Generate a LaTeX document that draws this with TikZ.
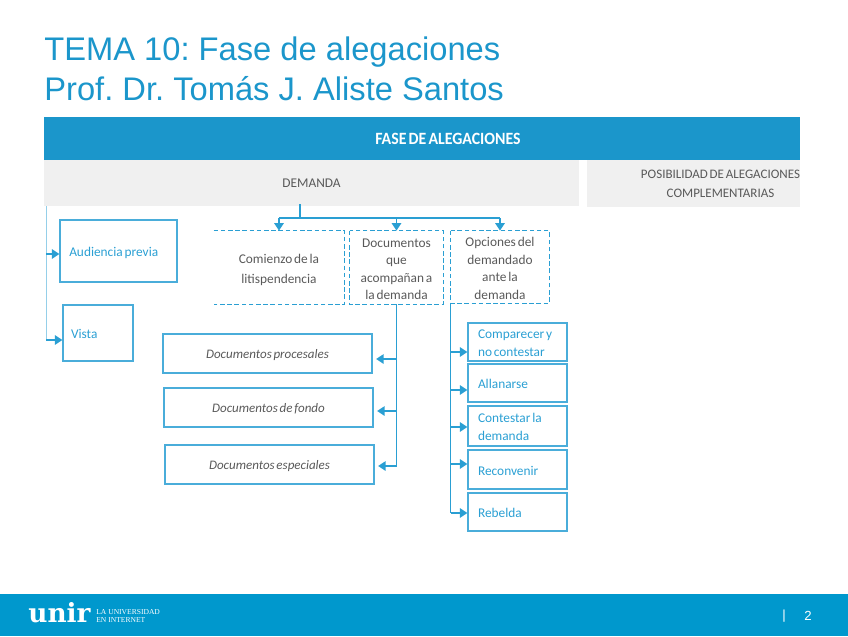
\documentclass[tikz,border=0pt]{standalone}
\usepackage{fontspec}
\setmainfont{Carlito}[WordSpace=0.6]
\newfontfamily\titlefont{Liberation Sans}
\newfontfamily\logofont{DejaVu Serif}
\newfontfamily\claimfont{Liberation Serif}
\usepackage{xcolor}
\usetikzlibrary{arrows.meta, positioning, calc}
\definecolor{unirblue}{HTML}{1B96CB}
\definecolor{footblue}{HTML}{0098CD}
\definecolor{linkblue}{HTML}{2A9FD3}
\definecolor{softgray}{HTML}{F0F0F0}
\definecolor{inkgray}{HTML}{595959}
\newcommand{\lowered}[1]{\raisebox{-3.4pt}[0pt][0pt]{\begin{tabular}{@{}c@{}}#1\end{tabular}}}
\newcommand{\leftlines}[2]{\makebox[#1][l]{\raisebox{-3.2pt}[0pt][0pt]{\begin{tabular}{@{}l@{}}#2\end{tabular}}}}

\begin{document}
\frenchspacing
\begin{tikzpicture}[
  x=0.02cm, y=-0.02cm,
  every node/.style={font=\fontsize{7.6}{9.9}\selectfont, text=inkgray, align=center, inner sep=0pt},
  band/.style={fill=softgray, minimum height=0.92cm},
  dashbox/.style={draw=linkblue, dash pattern=on 2.6pt off 1.5pt, line width=0.55pt},
  solidbox/.style={draw=linkblue!85!white, line width=0.75pt},
  optbox/.style={solidbox, minimum width=1.98cm, text=linkblue},
  docbox/.style={solidbox, minimum width=4.18cm, minimum height=0.78cm, font=\fontsize{7.4}{10}\selectfont\itshape},
  link/.style={draw=linkblue, line width=0.8pt},
  tip/.style={link, -{Triangle[length=1.5mm, width=1.9mm]}}
]
  \useasboundingbox (0,0) rectangle (848,636);

  % title
  \node[anchor=base west, text=unirblue, font=\titlefont\fontsize{18.6}{22}\selectfont] (titleone) at (44,60.5) {TEMA 10: Fase de alegaciones};
  \node[anchor=base west, text=unirblue, font=\titlefont\fontsize{18.6}{22}\selectfont] (titletwo) at (44,100.5) {Prof. Dr. Tomás J. Aliste Santos};

  % bands
  \node[fill=unirblue, minimum width=15.12cm, minimum height=0.86cm] (fase) at (422,138.5) {};
  \node[text=white, font=\fontsize{9.8}{11}\selectfont\bfseries\addfontfeatures{FakeStretch=0.92}] (fasetxt) at (448,139) {FASE DE ALEGACIONES};
  \node[band, minimum width=10.7cm] (demanda) at (311.5,183) {DEMANDA};
  \node[band, minimum width=4.26cm, minimum height=0.94cm] (posib) at (693.5,183.5) {};
  \node[font=\fontsize{7.4}{10}\selectfont] (posibtxt) at (720.5,183.5) {POSIBILIDAD DE ALEGACIONES\\[1pt]COMPLEMENTARIAS};

  % left column
  \node[solidbox, minimum width=2.34cm, minimum height=1.24cm, text=linkblue] (audiencia) at (118.5,251) {\leftlines{1.97cm}{Audiencia previa}};
  \node[solidbox, minimum width=1.4cm, minimum height=1.12cm, text=linkblue] (vista) at (98,333) {\leftlines{1.08cm}{Vista}};
  \coordinate (leftstart) at (46,206);
  \coordinate (leftend) at (46,340);
  \draw[draw=linkblue!50, line width=0.5pt] (leftstart) -- (leftend);
  \foreach \b/\yy in {audiencia/254, vista/340}
    \draw[tip] (46,\yy) -- (\b.west |- 0,\yy);

  % second row
  \node[minimum width=2.6cm, minimum height=1.46cm] (comienzo) at (279,267.5) {\lowered{Comienzo de la\\[1pt]litispendencia}};
  \draw[dashbox] (comienzo.north west) -- (comienzo.north east) -- (comienzo.south east) -- (comienzo.south west);
  \node[minimum width=1.86cm, minimum height=1.46cm] (documentos) at (396.5,267.5) {\lowered{Documentos\\que\\acompañan a\\la demanda}};
  \draw[dashbox] (documentos.north west) rectangle (documentos.south east);
  \node[minimum width=1.96cm, minimum height=1.44cm] (opciones) at (500,267) {\lowered{Opciones del\\demandado\\ante la\\demanda}};
  \draw[dashbox] (opciones.north west) rectangle (opciones.south east);

  \coordinate (fork) at (300,218);
  \draw[link, line width=1.1pt] (300,204) -- (fork);
  \draw[link] (comienzo.north |- fork) -- (opciones.north |- fork);
  \foreach \b in {comienzo, documentos, opciones}
    \draw[tip] (\b.north |- fork) -- (\b.north);

  % documents
  \node[docbox] (procesales) at (267.5,353.5) {\raisebox{-3pt}[0pt][0pt]{Documentos procesales}};
  \node[docbox] (fondo) at (268.5,407.5) {\raisebox{-3pt}[0pt][0pt]{Documentos de fondo}};
  \node[docbox] (especiales) at (269.5,464.5) {\raisebox{-3pt}[0pt][0pt]{Documentos especiales}};
  \draw[link] (documentos.south) -- (documentos.south |- 0,466);
  \foreach \b/\yy in {procesales/359, fondo/411, especiales/466}
    \draw[tip] (documentos.south |- 0,\yy) -- ([xshift=2pt]\b.east |- 0,\yy);

  % options
  \node[optbox, minimum height=0.76cm] (comparecer) at (517.5,342) {\leftlines{1.58cm}{Comparecer y\\no contestar}};
  \node[optbox, minimum height=0.76cm] (allanarse) at (517.5,383) {\leftlines{1.58cm}{Allanarse}};
  \node[optbox, minimum height=0.8cm] (contestar) at (517.5,426) {\leftlines{1.58cm}{Contestar la\\demanda}};
  \node[optbox, minimum height=0.78cm] (reconvenir) at (517.5,469.5) {\leftlines{1.58cm}{Reconvenir}};
  \node[optbox, minimum height=0.76cm] (rebeldia) at (517.5,512) {\leftlines{1.58cm}{Rebelda}};
  \draw[link] (opciones.south west) -- (opciones.south west |- 0,513);
  \foreach \b/\yy in {comparecer/352, allanarse/390, contestar/427, reconvenir/464, rebeldia/513}
    \draw[tip] (opciones.south west |- 0,\yy) -- (\b.west |- 0,\yy);

  % footer
  \node[fill=footblue, minimum width=16.96cm, minimum height=0.84cm, anchor=north west] (foot) at (0,594) {};
  \node[anchor=base west, text=white, font=\logofont\bfseries\fontsize{15}{15}\selectfont] (logo) at (28,622) {unir};
  \node[anchor=west, text=white, align=left, font=\claimfont\fontsize{4.3}{4.9}\selectfont] (claim) at (96,616) {LA UNIVERSIDAD\\EN INTERNET};
  \node[text=white, font=\titlefont\fontsize{7.5}{9}\selectfont] (sep) at (784,616) {|};
  \node[text=white, font=\titlefont\fontsize{7.5}{9}\selectfont] (pagenum) at (808,616) {2};
\end{tikzpicture}
\end{document}
